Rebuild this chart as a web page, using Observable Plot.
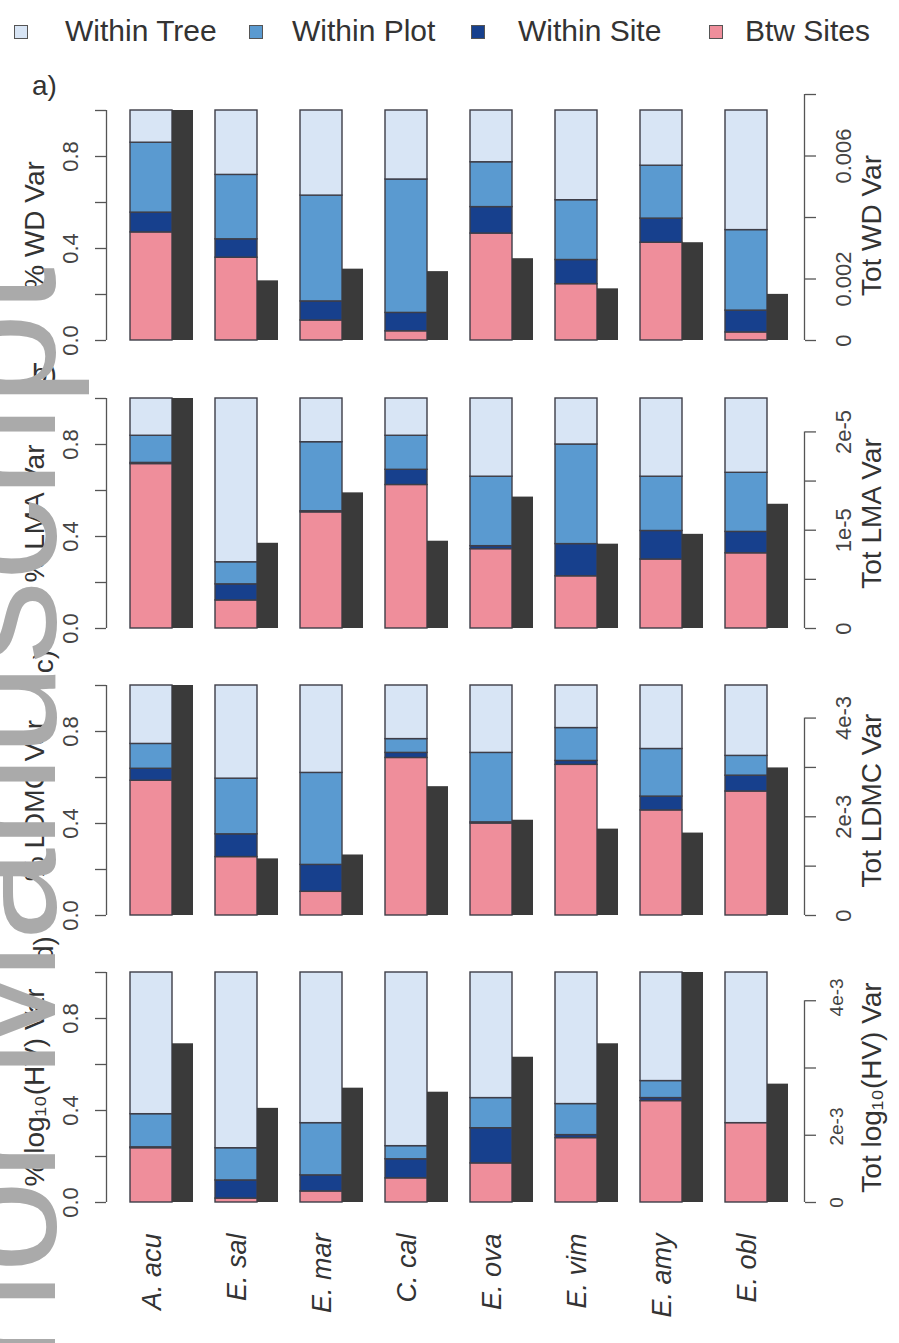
<!DOCTYPE html>
<html><head><meta charset="utf-8">
<script src="https://cdn.jsdelivr.net/npm/d3@7"></script>
<script src="https://cdn.jsdelivr.net/npm/@observablehq/plot@0.6"></script>
<style>
body{margin:0;background:#fff;}
#root{position:relative;width:899px;height:1343px;overflow:hidden;background:#fff;font-family:"Liberation Sans",Arial,sans-serif;}
.panel{position:absolute;left:0;}
#legend{position:absolute;left:0;top:0;width:899px;height:60px;}
.sw{position:absolute;top:25px;width:12px;height:12px;border:1.5px solid #555;}
.lt{position:absolute;top:14px;font-size:30px;line-height:34px;color:#333;white-space:nowrap;}
#wm{position:absolute;left:0;top:0;pointer-events:none;}
</style></head><body><div id="root"><div id="legend"></div></div>
<script>
// ---------- data ----------
const species = ["A. acu","E. sal","E. mar","C. cal","E. ova","E. vim","E. amy","E. obl"];
const components = ["Btw Sites","Within Site","Within Plot","Within Tree"]; // stacking order (bottom to top)
const legendOrder = ["Within Tree","Within Plot","Within Site","Btw Sites"];
const componentColors = ["#ef8e9b","#17408d","#5a9ad0","#d8e5f5"];
const totColor = "#3a3a3a";

const pctTicks = [0,0.2,0.4,0.6,0.8,1];
const pctLabels = [0,0.4,0.8];

// a) WD
const wdBtw  = [0.47,0.36,0.087,0.04,0.465,0.245,0.425,0.035];
const wdSite = [0.086,0.08,0.083,0.08,0.115,0.105,0.105,0.095];
const wdPlot = [0.304,0.28,0.46,0.58,0.195,0.26,0.23,0.35];
const wdTree = [0.14,0.28,0.37,0.30,0.225,0.39,0.24,0.52];
const wdTot  = [0.00748,0.00194,0.00232,0.00224,0.00266,0.00168,0.00318,0.0015];
const wdTotTicks = [0,0.002,0.004,0.006,0.008];
const wdTotLabelAt = [0,0.002,0.006];
const wdTotLabelText = ["0","0.002","0.006"];

// b) LMA
const lmaBtw  = [0.715,0.122,0.505,0.624,0.345,0.227,0.30,0.327];
const lmaSite = [0.005,0.07,0.005,0.066,0.013,0.14,0.124,0.093];
const lmaPlot = [0.118,0.096,0.30,0.148,0.302,0.433,0.236,0.257];
const lmaTree = [0.162,0.712,0.19,0.162,0.34,0.20,0.34,0.323];
const lmaTot  = [2.34e-5,0.867e-5,1.38e-5,0.888e-5,1.337e-5,0.858e-5,0.958e-5,1.264e-5];
const lmaTotTicks = [0,0.5e-5,1e-5,1.5e-5,2e-5];
const lmaTotLabelAt = [0,1e-5,2e-5];
const lmaTotLabelText = ["0","1e-5","2e-5"];

// c) LDMC
const ldmcBtw  = [0.586,0.254,0.103,0.685,0.40,0.655,0.457,0.539];
const ldmcSite = [0.052,0.099,0.117,0.022,0.005,0.017,0.06,0.069];
const ldmcPlot = [0.108,0.242,0.40,0.06,0.302,0.143,0.207,0.086];
const ldmcTree = [0.254,0.405,0.38,0.233,0.293,0.185,0.276,0.306];
const ldmcTot  = [4.66e-3,1.147e-3,1.226e-3,2.61e-3,1.93e-3,1.75e-3,1.67e-3,2.99e-3];
const ldmcTotTicks = [0,1e-3,2e-3,3e-3,4e-3];
const ldmcTotLabelAt = [0,2e-3,4e-3];
const ldmcTotLabelText = ["0","2e-3","4e-3"];

// d) log10(HV)
const hvBtw  = [0.236,0.017,0.048,0.105,0.17,0.28,0.441,0.345];
const hvSite = [0.004,0.079,0.07,0.083,0.153,0.013,0.013,0.0];
const hvPlot = [0.144,0.14,0.227,0.057,0.131,0.135,0.074,0.0];
const hvTree = [0.616,0.764,0.655,0.755,0.546,0.572,0.472,0.655];
const hvTot  = [2.36e-3,1.40e-3,1.70e-3,1.64e-3,2.16e-3,2.36e-3,3.42e-3,1.76e-3];
const hvTotTicks = [0,1e-3,2e-3,3e-3];
const hvTotLabelAt = [0,1.13e-3,3.05e-3];
const hvTotLabelText = ["0","2e-3","4e-3"];

const watermarkText = "Author Manuscript";

// ---------- layout ----------
const W = 899, MT = 40, PH = 230, ML = 106, MR = 95;
const xRange = [108, 810];
const root = document.getElementById("root");

function panel(cfg) {
  const {top, mb, btw, site, plot, tree, tot, totTicks, totLabelAt, totLabelText,
         leftTitle, rightTitle, tag, tagRotate, showSpecies, totLabelDx = 39, totLabelSize = 22} = cfg;
  const parts = [btw, site, plot, tree];
  const rows = [];
  species.forEach((sp, i) => components.forEach((c, k) => rows.push({sp, comp: c, v: parts[k][i]})));
  const totMax = d3.max(tot);
  const totRows = species.map((sp, i) => ({sp, tot: tot[i]}));
  const marks = [
    Plot.barY(rows, Plot.stackY({x: "sp", y: "v", fill: "comp", stroke: "#3e3e48", strokeWidth: 1.4, insetRight: 21})),
    Plot.barY(totRows, {x: "sp", y: d => d.tot / totMax, fill: totColor, insetLeft: 42}),
    // left axis
    Plot.ruleX([species[0]], {x: d => d, y1: 0, y2: 1, dx: -55.5, stroke: "#555", strokeWidth: 1.3}),
    Plot.axisY({anchor: "left", ticks: pctTicks, tickSize: 11, tickFormat: () => "", label: null, stroke: "#555", strokeWidth: 1.3}),
    Plot.text(pctLabels, {y: d => d, text: d => d.toFixed(1), frameAnchor: "left", dx: -36, rotate: -90, fontSize: 22, fill: "#444", textAnchor: "middle", lineAnchor: "middle"}),
    Plot.text([leftTitle], {frameAnchor: "left", dx: -71, rotate: -90, fontSize: 28, fill: "#333", textAnchor: "middle", lineAnchor: "middle"}),
    // right axis
    Plot.ruleX([species[species.length - 1]], {x: d => d, y1: 0, y2: d3.max(totTicks) / totMax, dx: 47.5, stroke: "#555", strokeWidth: 1.3}),
    Plot.axisY({anchor: "right", ticks: totTicks.map(v => v / totMax), tickSize: 11, tickFormat: () => "", label: null, stroke: "#555", strokeWidth: 1.3}),
    Plot.text(totLabelAt.map((v, i) => ({v, t: totLabelText[i]})), {y: d => d.v / totMax, text: "t", frameAnchor: "right", dx: totLabelDx, rotate: -90, fontSize: totLabelSize, fill: "#444", textAnchor: "middle", lineAnchor: "middle"}),
    Plot.text([rightTitle], {frameAnchor: "right", dx: 68, rotate: -90, fontSize: 28, fill: "#333", textAnchor: "middle", lineAnchor: "middle"}),
    // panel tag
    Plot.text([tag], {frameAnchor: "top-left", dx: -62, dy: -24, rotate: tagRotate, fontSize: 28, fill: "#333", textAnchor: "middle", lineAnchor: "middle"})
  ];
  if (showSpecies) {
    marks.push(Plot.text(species, {x: d => d, frameAnchor: "bottom", dy: 31, dx: -10, rotate: -90, textAnchor: "end", lineAnchor: "middle", fontStyle: "italic", fontSize: 27, fill: "#333"}));
  }
  const svg = Plot.plot({
    width: W, height: MT + PH + mb,
    marginTop: MT, marginBottom: mb, marginLeft: ML, marginRight: MR,
    style: {background: "transparent", overflow: "visible", fontFamily: "Liberation Sans, Arial, sans-serif"},
    x: {type: "band", domain: species, padding: 22 / 85, range: xRange, round: false, axis: null},
    y: {domain: [0, 1], axis: null},
    color: {domain: components, range: componentColors},
    marks
  });
  svg.classList.add("panel");
  svg.style.position = "absolute";
  svg.style.top = (top - MT) + "px";
  svg.style.left = "0px";
  root.appendChild(svg);
}

panel({top: 110, mb: 30, btw: wdBtw, site: wdSite, plot: wdPlot, tree: wdTree, tot: wdTot,
  totTicks: wdTotTicks, totLabelAt: wdTotLabelAt, totLabelText: wdTotLabelText,
  leftTitle: "% WD Var", rightTitle: "Tot WD Var", tag: "a)", tagRotate: 0});
panel({top: 398, mb: 30, btw: lmaBtw, site: lmaSite, plot: lmaPlot, tree: lmaTree, tot: lmaTot,
  totTicks: lmaTotTicks, totLabelAt: lmaTotLabelAt, totLabelText: lmaTotLabelText,
  leftTitle: "% LMA Var", rightTitle: "Tot LMA Var", tag: "b)", tagRotate: 0});
panel({top: 685, mb: 30, btw: ldmcBtw, site: ldmcSite, plot: ldmcPlot, tree: ldmcTree, tot: ldmcTot,
  totTicks: ldmcTotTicks, totLabelAt: ldmcTotLabelAt, totLabelText: ldmcTotLabelText,
  leftTitle: "% LDMC Var", rightTitle: "Tot LDMC Var", tag: "c)", tagRotate: -90});
panel({top: 972, mb: 140, btw: hvBtw, site: hvSite, plot: hvPlot, tree: hvTree, tot: hvTot,
  totTicks: hvTotTicks, totLabelAt: hvTotLabelAt, totLabelText: hvTotLabelText,
  leftTitle: "% log₁₀(HV) Var", rightTitle: "Tot log₁₀(HV) Var", tag: "d)", tagRotate: -90,
  showSpecies: true, totLabelDx: 32, totLabelSize: 19});

// legend
const legend = document.getElementById("legend");
const swX = [14, 249, 471, 709], txX = [65, 292, 518, 745];
legendOrder.forEach((name, i) => {
  const sw = document.createElement("div");
  sw.className = "sw";
  sw.style.left = swX[i] + "px";
  sw.style.background = componentColors[components.indexOf(name)];
  legend.appendChild(sw);
  const t = document.createElement("div");
  t.className = "lt";
  t.style.left = txX[i] + "px";
  t.textContent = name;
  legend.appendChild(t);
});

// vertical "Author Manuscript" watermark along the left edge (on top of the figure)
const NS = "http://www.w3.org/2000/svg";
const wm = document.createElementNS(NS, "svg");
wm.setAttribute("id", "wm");
wm.setAttribute("width", 899);
wm.setAttribute("height", 1343);
const wmSize = 166;
const wt = document.createElementNS(NS, "text");
wt.setAttribute("font-family", "Liberation Sans, Arial, sans-serif");
wt.setAttribute("font-size", wmSize);
wt.setAttribute("fill", "#aaaaaa");
wt.textContent = watermarkText;
wm.appendChild(wt);
root.appendChild(wm);
// anchor the "i" of "Manuscript" so its stem sits at y = 424
let start = 1607;
try {
  const iIdx = watermarkText.lastIndexOf("i");
  const off = wt.getSubStringLength(0, iIdx) + 0.111 * wmSize;
  if (isFinite(off) && off > 0) start = 424 + off;
} catch (e) {}
wt.setAttribute("transform", `translate(55,${start}) rotate(-90)`);
</script></body></html>
